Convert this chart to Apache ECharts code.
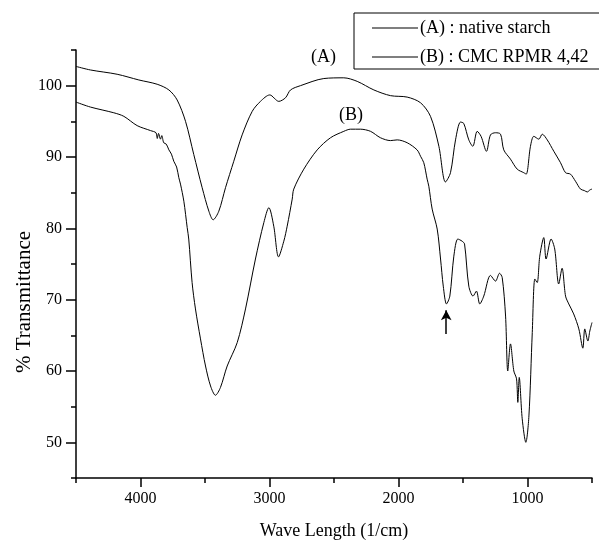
<!DOCTYPE html>
<html>
<head>
<meta charset="utf-8">
<script src="https://cdn.jsdelivr.net/npm/echarts@6/dist/echarts.min.js"></script>
<style>html,body{margin:0;padding:0;background:#fff}#c{width:599px;height:545px}</style>
</head>
<body>
<div id="c"></div>
<script>
// Series (A): native starch
var aWave = [4500,4388,4181,4013,3871,3780,3716,3651,3587,3522,3470,3437,3393,3341,3277,3212,3134,3070,2998,2928,2876,2837,2760,2579,2424,2320,2191,2062,1933,1829,1752,1687,1636,1597,1558,1519,1494,1455,1424,1390,1360,1318,1287,1248,1209,1184,1132,1080,1029,1010,977,951,912,886,847,796,744,705,667,628,589,560,537,515,500];
var aTrans = [102.7,102.2,101.6,100.8,100.2,99.4,98.0,95.0,90.35,85.7,82.4,81.2,82.4,85.7,89.4,93.1,96.4,97.8,98.7,97.8,98.3,99.4,100.0,101.0,101.1,100.6,99.4,98.6,98.4,97.6,95.7,91.5,86.5,87.8,92.4,94.9,94.7,92.4,91.5,93.6,92.9,90.8,93.1,93.4,93.2,91.0,89.7,88.3,87.8,87.6,91.5,92.9,92.5,93.2,92.4,90.8,89.2,87.8,87.6,86.6,85.5,85.3,85.1,85.4,85.5];
// Series (B): CMC RPMR 4,42
var bWave = [4500,4388,4207,4129,4026,3922,3880,3870,3860,3845,3835,3820,3800,3780,3760,3742,3720,3703,3690,3664,3638,3626,3600,3574,3535,3496,3457,3419,3380,3328,3250,3186,3109,3044,3005,2967,2930,2889,2863,2824,2812,2734,2630,2527,2424,2372,2295,2217,2140,2062,2010,1933,1856,1829,1804,1778,1765,1739,1700,1674,1653,1628,1602,1571,1540,1507,1488,1455,1422,1396,1370,1339,1287,1248,1217,1196,1170,1153,1132,1106,1085,1075,1064,1041,1013,989,963,943,925,905,874,856,817,789,758,732,705,680,642,602,571,556,532,517,500];
var bTrans = [97.7,97.0,96.2,95.7,94.4,93.7,93.4,92.6,93.3,92.5,93.0,92.0,91.8,91.0,90.4,89.4,88.6,87.1,86.2,83.8,80.1,78.5,72.4,68.7,64.5,60.7,57.9,56.6,57.7,60.7,64.0,68.7,75.7,80.8,82.9,80.3,76.0,78.2,80.3,84.1,85.5,88.3,91.0,92.7,93.6,93.9,93.9,93.6,92.7,92.3,92.4,92.0,91.0,90.1,89.2,86.9,85.9,82.7,79.9,75.7,71.9,69.4,70.5,76.1,78.5,78.2,77.8,71.9,70.5,71.2,69.4,70.5,73.4,72.6,73.7,73.1,67.7,60.0,63.8,60.0,58.9,55.6,59.1,53.3,50.0,53.7,65.4,72.9,72.4,76.1,78.7,75.7,78.5,77.1,72.2,74.4,70.5,69.4,68.0,65.9,63.2,65.9,64.2,65.6,66.8];
// Axis ticks and labels
var xMajor = [1000,2000,3000,4000];
var xMinor = [500,1500,2500,3500,4500];
var yMajor = [50,60,70,80,90,100];
var yMinor = [45,55,65,75,85,95,105];
var seriesNames = ['(A) : native starch', '(B) : CMC RPMR 4,42'];
var arrowMark = [1630, 65.2, 68.5];

function pairs(xs, ys){ var o=[]; for(var i=0;i<xs.length;i++){o.push([xs[i], ys[i]]);} return o; }

var FONT = 'Liberation Serif';
var chart = echarts.init(document.getElementById('c'), null, {renderer:'canvas'});
chart.setOption({
  animation: false,
  backgroundColor: '#fff',
  textStyle: {fontFamily: FONT, color: '#000'},
  grid: {left: 76, right: 7, top: 50, bottom: 65, containLabel: false},
  legend: {
    orient: 'vertical', left: 354, top: 13,
    padding: [6, 40, 3, 18], itemGap: 11,
    borderColor: '#000', borderWidth: 1,
    itemWidth: 46, itemHeight: 1.2, icon: 'rect',
    textStyle: {fontFamily: FONT, fontSize: 18, color: '#000', padding: [0,0,0,-3]},
    data: seriesNames
  },
  xAxis: [{
    type: 'value', min: 500, max: 4500, inverse: true,
    name: 'Wave Length (1/cm)', nameLocation: 'middle', nameGap: 44, nameMoveOverlap: false,
    nameTextStyle: {fontFamily: FONT, fontSize: 18, color: '#000'},
    axisLine: {show: true, onZero: false, lineStyle: {color: '#000', width: 1.5}},
    axisTick: {show: true, inside: false, length: 9, customValues: xMajor, lineStyle: {color: '#000', width: 1.5}},
    axisLabel: {customValues: xMajor, margin: 13, fontFamily: FONT, fontSize: 16, color: '#000',
      formatter: function(v){ return String(v); }},
    splitLine: {show: false}
  },{
    type: 'value', min: 500, max: 4500, inverse: true, position: 'bottom',
    axisLine: {show: false, onZero: false},
    axisTick: {show: true, length: 5, customValues: xMinor, lineStyle: {color: '#000', width: 1.5}},
    axisLabel: {show: false}, splitLine: {show: false}
  }],
  yAxis: [{
    type: 'value', min: 45, max: 105,
    name: '% Transmittance', nameLocation: 'middle', nameGap: 41, nameRotate: 90, nameMoveOverlap: false,
    nameTextStyle: {fontFamily: FONT, fontSize: 21, color: '#000', padding: [0, 76, 0, 0]},
    axisLine: {show: true, onZero: false, lineStyle: {color: '#000', width: 1.5}},
    axisTick: {show: true, length: 10, customValues: yMajor, lineStyle: {color: '#000', width: 1.5}},
    axisLabel: {customValues: yMajor, margin: 14, fontFamily: FONT, fontSize: 16, color: '#000',
      formatter: function(v){ return String(v); }},
    splitLine: {show: false}
  },{
    type: 'value', min: 45, max: 105, position: 'left',
    axisLine: {show: false, onZero: false},
    axisTick: {show: true, length: 5, customValues: yMinor, lineStyle: {color: '#000', width: 1.5}},
    axisLabel: {show: false}, splitLine: {show: false}
  }],
  series: [{
    name: seriesNames[0], type: 'line', data: pairs(aWave, aTrans),
    symbol: 'none', smooth: 0.3, color: '#000',
    lineStyle: {color: '#000', width: 1}
  },{
    name: seriesNames[1], type: 'line', data: pairs(bWave, bTrans),
    symbol: 'none', smooth: 0.3, color: '#000',
    lineStyle: {color: '#000', width: 1},
    markLine: {
      silent: true, symbol: ['none','arrow'], symbolSize: [8, 10],
      label: {show: false},
      lineStyle: {color: '#000', type: 'solid', width: 1.5},
      data: [[{coord: [arrowMark[0], arrowMark[1]]}, {coord: [arrowMark[0], arrowMark[2]]}]]
    }
  }],
  graphic: [
    {type: 'text', left: 311, top: 48, style: {text: '(A)', font: '18px "Liberation Serif"', fill: '#000'}},
    {type: 'text', left: 339, top: 106, style: {text: '(B)', font: '18px "Liberation Serif"', fill: '#000'}}
  ]
});
</script>
</body>
</html>
